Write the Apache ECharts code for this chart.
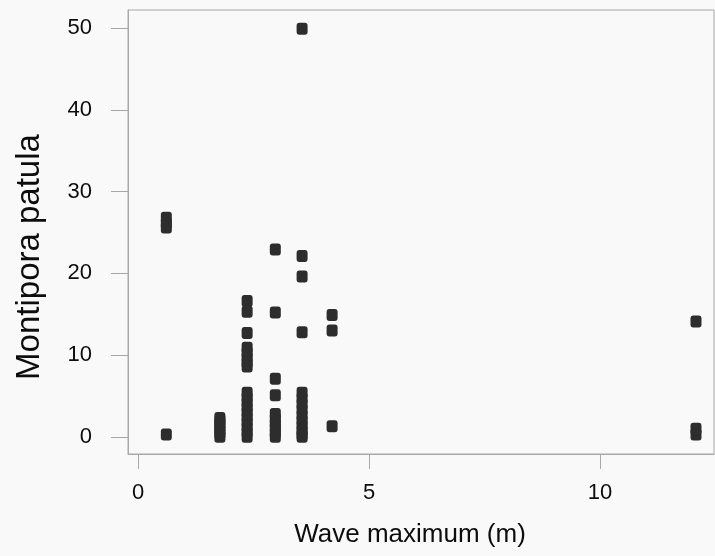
<!DOCTYPE html>
<html>
<head>
<meta charset="utf-8">
<script src="https://cdn.jsdelivr.net/npm/echarts@6/dist/echarts.min.js"></script>
<style>
html,body{margin:0;padding:0;background:#f9f9f9;}
#chart{width:715px;height:556px;}
</style>
</head>
<body>
<div id="chart"></div>
<script>
// Data (x = wave maximum in m, y = Montipora patula)
const xTicks = [0, 5, 10];
const yTicks = [0, 10, 20, 30, 40, 50];
const col06 = [26.8, 26.1, 25.6, 0.3];
const col18 = [0, 0.4, 0.8, 1.2, 1.6, 2.0, 2.3];
const col24 = [16.6, 15.3, 12.7, 10.9, 10.3, 9.7, 9.1, 8.6, 5.4, 4.8, 4.2, 3.6, 3.0, 2.4, 1.8, 1.2, 0.6, 0];
const col30 = [22.9, 15.2, 7.1, 5.1, 2.8, 2.2, 1.6, 1.1, 0.5, 0];
const col36 = [49.9, 22.1, 19.6, 12.8, 5.4, 4.7, 4.0, 3.3, 2.6, 2.0, 1.4, 0.8, 0.3, 0];
const col42 = [14.9, 13.0, 1.3];
const col121 = [14.1, 1.0, 0.3];
const columns = [
  [0.61, col06], [1.77, col18], [2.36, col24], [2.97, col30],
  [3.55, col36], [4.2, col42], [12.08, col121]
];
const points = [];
columns.forEach(([x, ys]) => ys.forEach(y => points.push([x, y])));

const chart = echarts.init(document.getElementById('chart'));
chart.setOption({
  backgroundColor: '#f9f9f9',
  animation: false,
  grid: {left: 128, top: 10, right: 1, bottom: 102, show: true, borderColor: '#a8a8a8', borderWidth: 1, backgroundColor: 'transparent'},
  xAxis: {
    type: 'value', min: -0.22, max: 12.47,
    name: 'Wave maximum (m)', nameLocation: 'middle', nameGap: 68,
    nameTextStyle: {fontFamily: 'Liberation Sans', fontSize: 26, color: '#0d0d0d', verticalAlign: 'top', padding: [0, 22, 0, 0]},
    axisLine: {show: true, onZero: false, lineStyle: {color: '#a8a8a8', width: 1}},
    axisTick: {show: true, length: 15, lineStyle: {color: '#a8a8a8'}, customValues: xTicks},
    axisLabel: {customValues: xTicks, margin: 28, fontFamily: 'Liberation Sans', fontSize: 22, color: '#0d0d0d'},
    splitLine: {show: false}
  },
  yAxis: {
    type: 'value', min: -2.1, max: 52.2,
    name: 'Montipora patula', nameLocation: 'middle', nameGap: 82, nameRotate: 90,
    nameTextStyle: {fontFamily: 'Liberation Sans', fontSize: 33, color: '#0d0d0d', padding: [0, 50, 0, 0]},
    axisLine: {show: true, onZero: false, lineStyle: {color: '#a8a8a8', width: 1}},
    axisTick: {show: true, length: 17, lineStyle: {color: '#a8a8a8'}, customValues: yTicks},
    axisLabel: {customValues: yTicks, margin: 36, fontFamily: 'Liberation Sans', fontSize: 22, color: '#0d0d0d'},
    splitLine: {show: false}
  },
  series: [{
    type: 'scatter',
    data: points,
    symbol: 'roundRect',
    symbolSize: [11, 12],
    itemStyle: {color: '#2d2d2d', opacity: 1}
  }]
});
</script>
</body>
</html>
